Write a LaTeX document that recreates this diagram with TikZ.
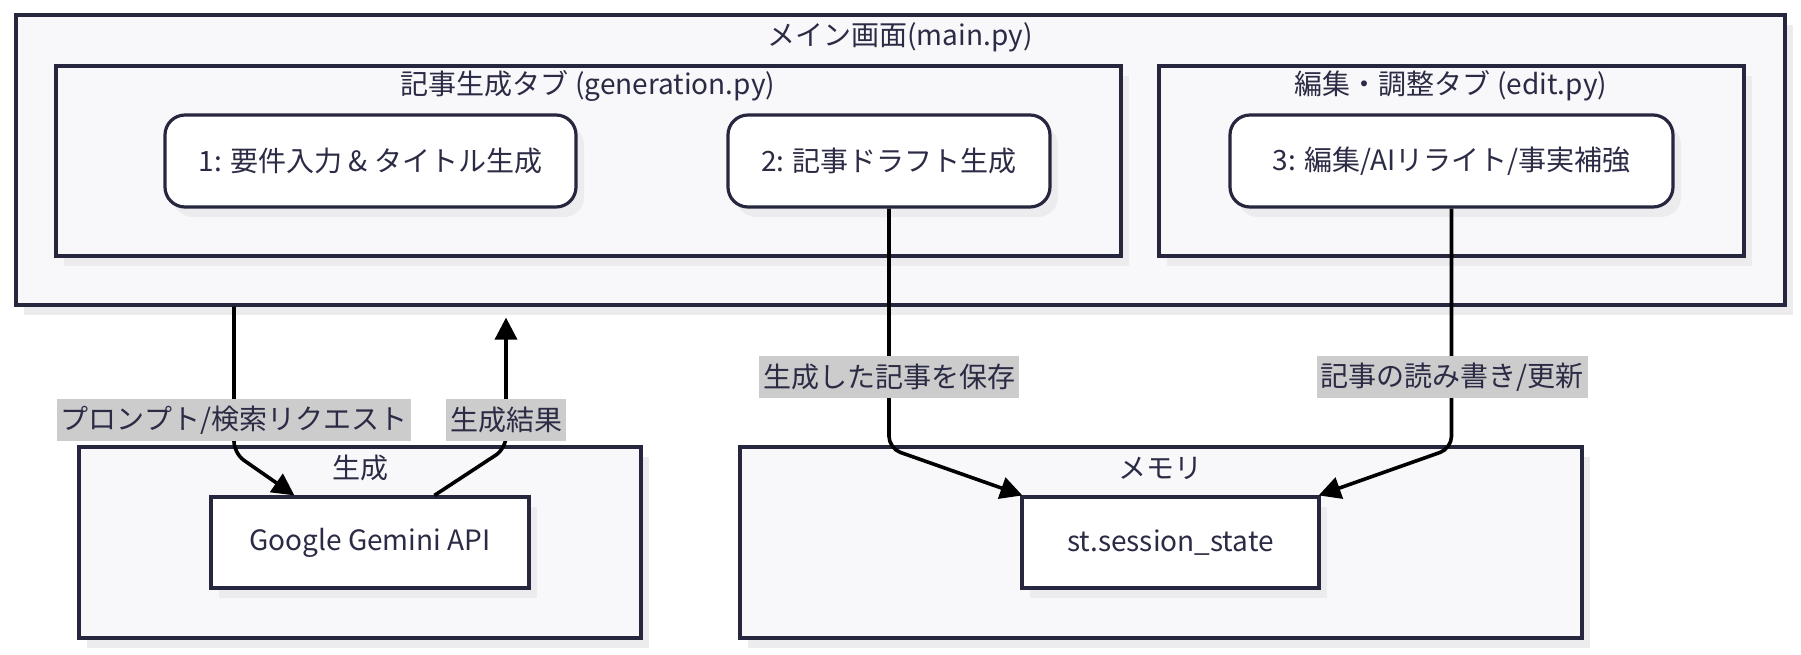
\documentclass[tikz,border=0pt]{standalone}
\usepackage{fontspec}
\setmainfont{Noto Sans CJK JP}
\usepackage{tikz}
\usetikzlibrary{arrows.meta,positioning,calc,shadows}
\definecolor{mmnavy}{HTML}{26263F}
\definecolor{mmtext}{HTML}{2B2B45}
\definecolor{mmfill}{HTML}{F8F8FA}
\definecolor{mmshadow}{HTML}{ECECEE}
\definecolor{mmlabel}{HTML}{CCCCCC}
\pgfdeclarelayer{foreground}
\pgfsetlayers{main,foreground}

\begin{document}
\begin{tikzpicture}[x=0.5pt, y=-0.5pt,
  cluster/.style={draw=mmnavy, line width=1.6pt, fill=mmfill, inner sep=0pt,
                  drop shadow={shadow xshift=4pt, shadow yshift=-5pt, fill=mmshadow, opacity=1}},
  ctitle/.style={inner sep=0pt, text=mmtext, font=\fontsize{14pt}{16pt}\selectfont},
  stepbox/.style={draw=mmnavy, line width=1.6pt, fill=white, rounded corners=10pt,
                  minimum height=46pt, text=mmtext, font=\fontsize{14pt}{16pt}\selectfont,
                  drop shadow={shadow xshift=4pt, shadow yshift=-5pt, fill=mmshadow, opacity=1}},
  svcbox/.style={draw=mmnavy, line width=1.6pt, fill=white,
                 minimum height=45.5pt, text=mmtext, font=\fontsize{14pt}{16pt}\selectfont,
                 drop shadow={shadow xshift=4pt, shadow yshift=-5pt, fill=mmshadow, opacity=1}},
  elabel/.style={fill=mmlabel, inner sep=2pt, minimum height=21pt, text=mmtext,
                 font=\fontsize{14pt}{16pt}\selectfont},
  arr/.style={-{Triangle[length=11pt,width=11pt]}, line width=1.8pt, black, rounded corners=6pt}
]
\fill[white] (0,0) rectangle (1801,654);
\useasboundingbox (0,0) rectangle (1801,654);

% main screen
\node[cluster, minimum width=884.5pt, minimum height=145pt] (main) at (900.5,160) {};
\node[ctitle] (mainT) at (900,37) {メイン画面(main.py)};
\node[cluster, minimum width=532.5pt, minimum height=95pt] (gentab) at (588.5,161) {};
\node[ctitle] (gentabT) at (588,86) {記事生成タブ (generation.py)};
\node[cluster, minimum width=292.5pt, minimum height=95pt] (edittab) at (1451.5,161) {};
\node[ctitle] (edittabT) at (1451,86) {編集・調整タブ (edit.py)};
\node[stepbox, minimum width=205.5pt] (req) at (370.5,161) {1: 要件入力 \& タイトル生成};
\node[stepbox, minimum width=161pt] (draft) at (889,161) {2: 記事ドラフト生成};
\node[stepbox, minimum width=221.5pt] (editnode) at (1451.5,161) {3: 編集/AIリライト/事実補強};

% generation + memory
\node[cluster, minimum width=281pt, minimum height=95.5pt] (gengrp) at (360,542.5) {};
\node[ctitle] (gengrpT) at (360,468) {生成};
\node[svcbox, minimum width=159pt] (gemini) at (370,542.5) {Google Gemini API};
\node[cluster, minimum width=421pt, minimum height=95.5pt] (memgrp) at (1161,542.5) {};
\node[ctitle] (memgrpT) at (1160,468) {メモリ};
\node[svcbox, minimum width=148.5pt] (session) at (1170.5,542.5) {st.session\_state};

% edge labels (on top of the lines)
\begin{pgfonlayer}{foreground}
\node[elabel] (lprompt) at (234,420) {プロンプト/検索リクエスト};
\node[elabel] (lresult) at (506,420) {生成結果};
\node[elabel] (lsave) at (889,377) {生成した記事を保存};
\node[elabel] (lrw) at (1452,377) {記事の読み書き/更新};
\end{pgfonlayer}

\draw[arr] (main.south -| lprompt) -- ($(lprompt |- gengrp.north)+(0,8)$) -- ($(gemini.north west)+(85,0)$);
\draw[arr] ($(gemini.north west)+(225,0)$) -- ($(lresult |- gengrp.north)+(0,3)$) -- ($(lresult |- main.south)+(0,11)$);
\draw[arr] (draft.south) -- ($(draft.south |- memgrp.north)+(0,3)$) -- ($(session.north west)+(2,0)$);
\draw[arr] (editnode.south) -- ($(editnode.south |- memgrp.north)+(0,3)$) -- ($(session.north east)+(-2,0)$);
\end{tikzpicture}
\end{document}
